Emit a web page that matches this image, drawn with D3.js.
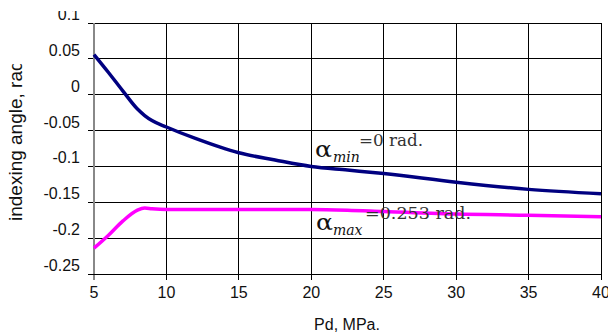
<!DOCTYPE html>
<html>
<head>
<meta charset="utf-8">
<script src="https://cdn.jsdelivr.net/npm/d3@7"></script>
<style>
  html, body { margin: 0; padding: 0; background: #fff; }
  svg { display: block; }
</style>
</head>
<body>
<svg id="chart" width="608" height="336"></svg>
<script>
// ---- data ----
const pd = [5, 6, 7, 8, 8.5, 9, 10, 12, 15, 17.5, 20, 22.5, 25, 30, 35, 40];
const alphaMin = [0.056, 0.031, 0.005, -0.020, -0.029, -0.036, -0.045, -0.061, -0.081, -0.091, -0.100, -0.105, -0.110, -0.122, -0.132, -0.138];
const alphaMax = [-0.214, -0.196, -0.176, -0.161, -0.158, -0.159, -0.160, -0.160, -0.160, -0.160, -0.160, -0.161, -0.163, -0.1665, -0.168, -0.170];
const xTicks = [5, 10, 15, 20, 25, 30, 35, 40];
const yTicks = [0.1, 0.05, 0, -0.05, -0.1, -0.15, -0.2, -0.25];
const yTickLabels = ["0.1", "0.05", "0", "-0.05", "-0.1", "-0.15", "-0.2", "-0.25"];
const xTitle = "Pd, MPa.";
const yTitle = "indexing angle, rad";
const seriesLabels = [
  { name: "min", text: "=0 rad.", color: "#000080" },
  { name: "max", text: "=0.253 rad.", color: "#ff00ff" }
];

// ---- layout ----
const L = 94, R = 601, T = 23, B = 274;
const svg = d3.select("#chart");
const x = d3.scaleLinear().domain([5, 40]).range([L, R]);
const y = d3.scaleLinear().domain([-0.25, 0.1]).range([B, T]);
const sans = "'Liberation Sans', Arial, sans-serif";
const serif = "'DejaVu Serif', 'Liberation Serif', serif";

const defs = svg.append("defs");
// clip for the top tick label (local coords of that tick: origin at y = T)
defs.append("clipPath").attr("id", "topClip")
  .append("rect").attr("x", -100).attr("y", 11 - T).attr("width", 800).attr("height", 400);
defs.append("clipPath").attr("id", "titleClip")
  .append("rect").attr("x", 0).attr("y", 64).attr("width", 60).attr("height", 300);

// horizontal grid + y labels
const gy = svg.append("g").attr("transform", `translate(${L},0)`)
  .call(d3.axisLeft(y).tickValues(yTicks).tickSize(-(R - L)).tickSizeOuter(0).offset(0)
    .tickFormat((d, i) => yTickLabels[i]));
gy.select(".domain").remove();
gy.selectAll(".tick line").attr("x1", -6).attr("stroke", "#000").attr("stroke-width", 1)
  .attr("shape-rendering", "crispEdges");
gy.selectAll(".tick text")
  .attr("x", -14).attr("dy", -3)
  .attr("font-family", sans).attr("font-size", 16).attr("fill", "#111");
gy.selectAll(".tick").filter(d => d === 0.1).select("text").attr("clip-path", "url(#topClip)");

// vertical grid + x labels
const gx = svg.append("g").attr("transform", `translate(0,${B})`)
  .call(d3.axisBottom(x).tickValues(xTicks).tickSize(-(B - T)).tickSizeOuter(0).offset(0));
gx.select(".domain").remove();
gx.selectAll(".tick line").attr("y1", 6)
  .attr("stroke", d => d === 5 ? "#888" : "#000")
  .attr("stroke-width", d => d === 5 ? 2 : 1)
  .attr("shape-rendering", "crispEdges");
gx.selectAll(".tick text")
  .attr("y", 24).attr("dy", 0)
  .attr("font-family", sans).attr("font-size", 16).attr("fill", "#111");

// bottom axis line
svg.append("line").attr("x1", L - 6).attr("x2", R).attr("y1", B).attr("y2", B)
  .attr("stroke", "#000").attr("stroke-width", 1).attr("shape-rendering", "crispEdges");

// titles
svg.append("text").attr("x", 347).attr("y", 330).attr("text-anchor", "middle")
  .attr("font-family", sans).attr("font-size", 16).attr("fill", "#111").text(xTitle);
svg.append("g").attr("clip-path", "url(#titleClip)")
  .append("text").attr("transform", "translate(22,221) rotate(-90)")
  .attr("font-family", sans).attr("font-size", 19).attr("fill", "#111").text(yTitle);

// lines
const line = d3.line().x(d => x(d[0])).y(d => y(d[1])).curve(d3.curveMonotoneX);
svg.append("path").datum(pd.map((p, i) => [p, alphaMin[i]]))
  .attr("d", line).attr("fill", "none").attr("stroke", seriesLabels[0].color)
  .attr("stroke-width", 3.5).attr("stroke-linejoin", "round");
svg.append("path").datum(pd.map((p, i) => [p, alphaMax[i]]))
  .attr("d", line).attr("fill", "none").attr("stroke", seriesLabels[1].color)
  .attr("stroke-width", 3.5).attr("stroke-linejoin", "round");

// annotations
const ann = [
  { a: [315, 157], s: [333, 162], t: [359, 146], tl: 64 },
  { a: [316, 230], s: [333, 235], t: [365, 219], tl: 106 }
];
ann.forEach((p, i) => {
  svg.append("text").attr("x", p.a[0]).attr("y", p.a[1])
    .attr("font-family", serif).attr("font-size", 22).attr("fill", "#111")
    .attr("textLength", 17).attr("lengthAdjust", "spacingAndGlyphs").text("α");
  svg.append("text").attr("x", p.s[0]).attr("y", p.s[1])
    .attr("font-family", serif).attr("font-style", "italic").attr("font-size", 14).attr("fill", "#111")
    .text(seriesLabels[i].name);
  svg.append("text").attr("x", p.t[0]).attr("y", p.t[1])
    .attr("font-family", serif).attr("font-size", 16).attr("fill", "#333")
    .attr("textLength", p.tl).attr("lengthAdjust", "spacingAndGlyphs").text(seriesLabels[i].text);
});
</script>
</body>
</html>
